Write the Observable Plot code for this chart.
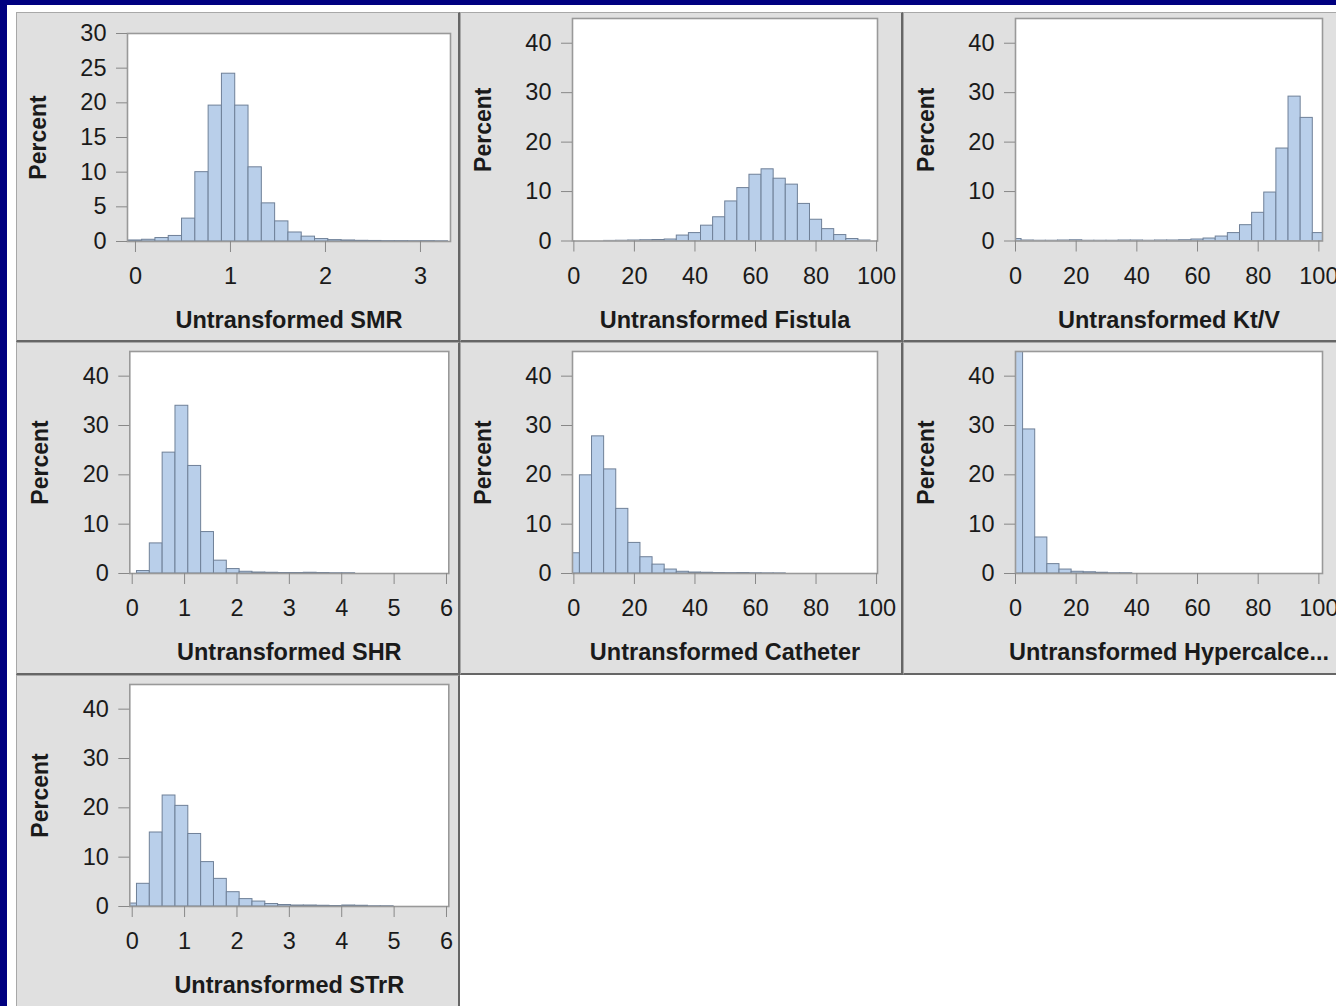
<!DOCTYPE html>
<html>
<head>
<meta charset="utf-8">
<script src="https://cdn.jsdelivr.net/npm/d3@7"></script>
<script src="https://cdn.jsdelivr.net/npm/@observablehq/plot@0.6"></script>
<style>
html, body { margin: 0; padding: 0; width: 1336px; height: 1006px; overflow: hidden; background: #000080; }
#page { position: absolute; left: 7px; top: 5px; width: 1400px; height: 1100px; background: #ffffff; }
.cell { position: absolute; background: #e0e0e0; box-sizing: border-box;
  border-left: 1px solid #a8a8a8; border-top: 1px solid #a8a8a8;
  border-right: 2px solid #666; border-bottom: 2px solid #666; }
.cell svg { position: absolute; left: -1px; top: -1px; overflow: visible; max-width: none !important; }
</style>
</head>
<body>
<div id="page"></div>
<script>
// ---- Data (percent per bin) ----
const smrStart = -0.07, smrWidth = 0.14;
const smrPercent = [0.15, 0.25, 0.5, 0.8, 3.3, 10.0, 19.6, 24.2, 19.6, 10.7, 5.5, 2.9, 1.3, 0.7, 0.35, 0.2, 0.15, 0.1, 0.08, 0.05, 0.05, 0.04, 0.05, 0.03];

const fistulaStart = -2, fistulaWidth = 4;
const fistulaPercent = [0, 0, 0, 0.02, 0.05, 0.1, 0.15, 0.2, 0.3, 1.1, 1.6, 3.1, 4.8, 8.0, 10.7, 13.4, 14.5, 12.6, 11.4, 7.5, 4.3, 2.4, 1.2, 0.4, 0.1];

const ktvStart = -2, ktvWidth = 4;
const ktvPercent = [0.4, 0.1, 0.05, 0.05, 0.1, 0.15, 0.05, 0.05, 0.05, 0.1, 0.1, 0.05, 0.1, 0.1, 0.15, 0.3, 0.5, 0.9, 1.6, 3.2, 5.7, 9.8, 18.7, 29.2, 24.9, 1.6];

const shrStart = 0.091, shrWidth = 0.245;
const shrPercent = [0.5, 6.1, 24.5, 34.0, 21.8, 8.4, 2.6, 0.9, 0.35, 0.2, 0.15, 0.1, 0.1, 0.15, 0.1, 0.05, 0.05];

const catheterStart = -2, catheterWidth = 4;
const catheterPercent = [4.1, 19.9, 27.8, 21.1, 13.1, 6.2, 3.3, 1.8, 0.8, 0.35, 0.2, 0.15, 0.1, 0.08, 0.1, 0.05, 0.03, 0.02];

const hyperStart = -1.5, hyperWidth = 4;
const hyperPercent = [60, 29.2, 7.3, 1.9, 0.8, 0.35, 0.25, 0.15, 0.05, 0.05];

const strrStart = -0.154, strrWidth = 0.245;
const strrPercent = [0.6, 4.6, 15.0, 22.5, 20.4, 14.7, 9.0, 5.6, 2.9, 1.5, 1.0, 0.5, 0.3, 0.2, 0.2, 0.15, 0.1, 0.2, 0.15, 0.05, 0.05];

// ---- Tick labels and titles ----
const ticksSMR = [0, 1, 2, 3];
const ticks100 = [0, 20, 40, 60, 80, 100];
const ticks6 = [0, 1, 2, 3, 4, 5, 6];
const yTicks30 = [0, 5, 10, 15, 20, 25, 30];
const yTicks40 = [0, 10, 20, 30, 40];
const yLabel = "Percent";
const titles = ["Untransformed SMR", "Untransformed Fistula", "Untransformed Kt/V",
  "Untransformed SHR", "Untransformed Catheter", "Untransformed Hypercalce...", "Untransformed STrR"];

// ---- Layout (cells and plot boxes in page pixels) ----
const colX = [16, 460, 903], colW = [444, 443, 443];
const rowY = [12, 342, 675], rowH = [330, 333, 333];

const panels = [
  {col: 0, row: 0, start: smrStart, width: smrWidth, values: smrPercent, xDomain: [-0.084, 3.316], yDomain: [0, 30], xTicks: ticksSMR, yTicks: yTicks30, box: [127, 450, 33, 241], title: titles[0]},
  {col: 1, row: 0, start: fistulaStart, width: fistulaWidth, values: fistulaPercent, xDomain: [-0.45, 100.3], yDomain: [0, 45], xTicks: ticks100, yTicks: yTicks40, box: [572, 877, 18, 240.5], title: titles[1]},
  {col: 2, row: 0, start: ktvStart, width: ktvWidth, values: ktvPercent, xDomain: [0, 101.2], yDomain: [0, 45], xTicks: ticks100, yTicks: yTicks40, box: [1015, 1322, 18, 240.5], title: titles[2]},
  {col: 0, row: 1, start: shrStart, width: shrWidth, values: shrPercent, xDomain: [-0.046, 6.044], yDomain: [0, 45], xTicks: ticks6, yTicks: yTicks40, box: [129.3, 448.3, 351, 573], title: titles[3]},
  {col: 1, row: 1, start: catheterStart, width: catheterWidth, values: catheterPercent, xDomain: [-0.45, 100.3], yDomain: [0, 45], xTicks: ticks100, yTicks: yTicks40, box: [572, 877, 351, 573], title: titles[4]},
  {col: 2, row: 1, start: hyperStart, width: hyperWidth, values: hyperPercent, xDomain: [0, 101.2], yDomain: [0, 45], xTicks: ticks100, yTicks: yTicks40, box: [1015, 1322, 351, 573], title: titles[5]},
  {col: 0, row: 2, start: strrStart, width: strrWidth, values: strrPercent, xDomain: [-0.046, 6.044], yDomain: [0, 45], xTicks: ticks6, yTicks: yTicks40, box: [129.3, 448.3, 684, 906], title: titles[6]}
];

function makePanel(p) {
  const left = colX[p.col], top = rowY[p.row], w = colW[p.col], h = rowH[p.row];
  const [bx0, bx1, by0, by1] = p.box;
  const bins = p.values.map((v, i) => ({x1: p.start + i * p.width, x2: p.start + (i + 1) * p.width, pct: v}));
  const chart = Plot.plot({
    width: w, height: h,
    marginLeft: bx0 - left, marginRight: left + w - bx1,
    marginTop: by0 - top, marginBottom: top + h - by1,
    style: {fontFamily: "'Liberation Sans', Arial, sans-serif", fontSize: "23.5px", color: "#1a1a1a", background: "transparent", overflow: "visible", maxWidth: "none"},
    x: {domain: p.xDomain, label: null},
    y: {domain: p.yDomain, label: null},
    marks: [
      Plot.frame({fill: "white", stroke: "none"}),
      Plot.rectY(bins, {x1: "x1", x2: "x2", y: "pct", fill: "#b9cfea", stroke: "#6f8098", strokeWidth: 1, clip: true}),
      Plot.frame({stroke: "#999", strokeWidth: 1.6}),
      Plot.axisX({ticks: p.xTicks, tickSize: 11, tickPadding: 15, stroke: "#888", tickFormat: d => String(d)}),
      Plot.axisY({ticks: p.yTicks, tickSize: 11, tickPadding: 10, stroke: "#888", tickFormat: d => String(d)}),
      Plot.text([p.title], {text: d => d, frameAnchor: "bottom", lineAnchor: "middle", dy: 79, fontWeight: "bold", fontSize: 23.5, fill: "#1a1a1a"}),
      Plot.text([yLabel], {text: d => d, frameAnchor: "left", textAnchor: "middle", lineAnchor: "middle", dx: -89, rotate: -90, fontWeight: "bold", fontSize: 23, fill: "#1a1a1a"})
    ]
  });
  const cell = document.createElement("div");
  cell.className = "cell";
  cell.style.left = left + "px";
  cell.style.top = top + "px";
  cell.style.width = w + "px";
  cell.style.height = h + "px";
  cell.appendChild(chart);
  document.body.appendChild(cell);
}

panels.forEach(makePanel);
</script>
</body>
</html>
